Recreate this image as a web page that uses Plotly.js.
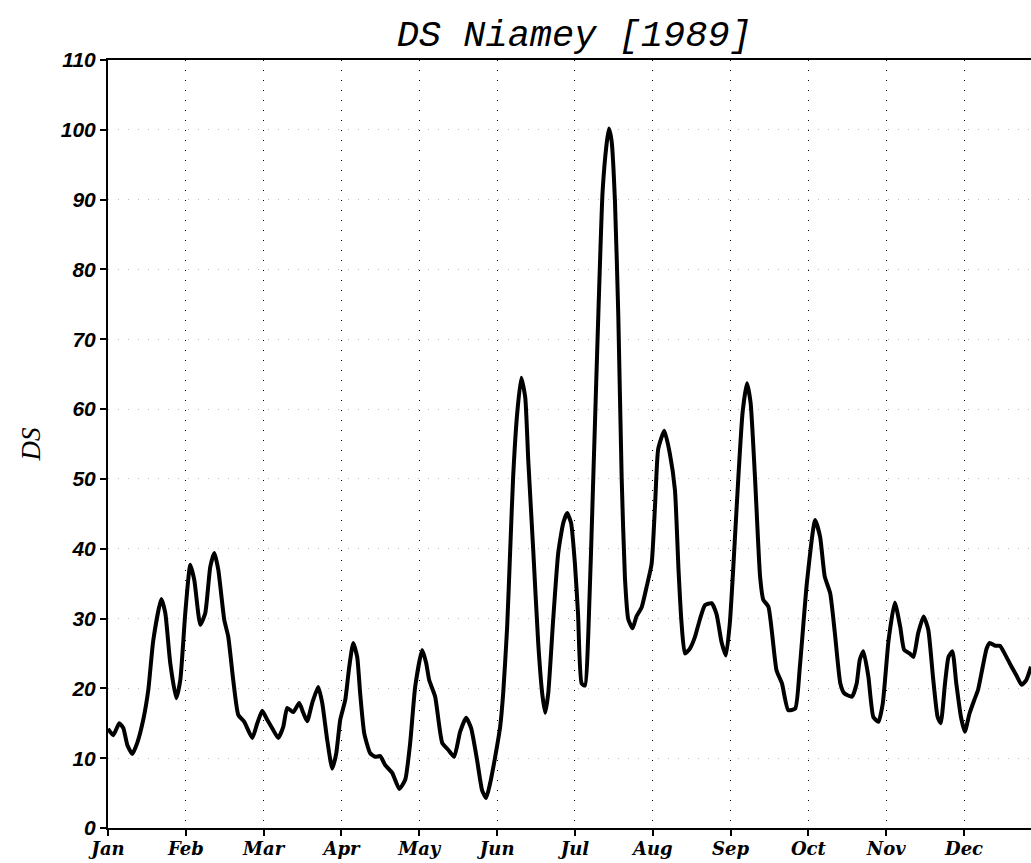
<!DOCTYPE html>
<html>
<head>
<meta charset="utf-8">
<script src="https://cdn.plot.ly/plotly-3.0.1.min.js"></script>
<style>html,body{margin:0;padding:0;background:#fff;}#chart{width:1031px;height:863px;}</style>
</head>
<body>
<div id="chart"></div>
<script>
// x position in months since 1 Jan (0 = Jan, 1 = Feb, ...)
const monthPos = [0.0,0.068,0.145,0.197,0.248,0.312,0.376,0.453,0.518,0.582,0.685,0.736,0.80,0.877,0.929,0.993,1.057,1.109,1.186,1.25,1.314,1.366,1.417,1.494,1.545,1.609,1.674,1.751,1.854,1.918,1.982,2.046,2.11,2.187,2.252,2.303,2.38,2.457,2.509,2.56,2.624,2.701,2.753,2.817,2.881,2.933,2.984,3.048,3.1,3.151,3.202,3.24,3.292,3.369,3.434,3.498,3.562,3.652,3.742,3.819,3.883,3.947,4.037,4.089,4.127,4.204,4.294,4.371,4.448,4.525,4.602,4.666,4.743,4.807,4.859,4.91,4.975,5.039,5.078,5.129,5.168,5.206,5.258,5.31,5.361,5.4,5.464,5.528,5.579,5.618,5.657,5.72,5.785,5.85,5.9,5.95,6.0,6.04,6.086,6.13,6.17,6.236,6.30,6.355,6.407,6.437,6.471,6.514,6.557,6.60,6.642,6.685,6.741,6.79,6.857,6.92,6.985,7.03,7.07,7.148,7.22,7.285,7.33,7.37,7.413,7.477,7.54,7.606,7.67,7.756,7.82,7.884,7.94,7.99,8.034,8.1,8.154,8.21,8.257,8.313,8.379,8.42,8.486,8.59,8.66,8.74,8.83,8.89,8.98,9.085,9.15,9.21,9.28,9.34,9.41,9.46,9.56,9.62,9.66,9.706,9.77,9.834,9.9,9.955,10.03,10.11,10.18,10.23,10.3,10.35,10.41,10.48,10.54,10.6,10.66,10.7,10.755,10.8,10.85,10.9,10.96,11.01,11.07,11.13,11.18,11.24,11.29,11.33,11.4,11.46,11.53,11.61,11.68,11.74,11.8,11.86];
const dsValues = [14.2,13.3,15.0,14.3,11.9,10.6,12.2,15.5,19.8,26.9,32.8,30.8,23.6,18.6,21.2,30.8,37.7,35.5,29.1,30.8,37.4,39.4,37.0,29.8,27.4,21.2,16.2,15.2,12.9,15.0,16.8,15.5,14.3,12.9,14.5,17.2,16.6,17.9,16.5,15.3,17.9,20.2,17.9,12.6,8.5,10.7,15.5,18.3,23.1,26.5,24.5,19.3,13.6,10.7,10.2,10.3,9.0,7.9,5.6,6.9,12.2,20.2,25.5,23.6,21.2,18.8,12.2,11.2,10.2,13.8,15.8,14.3,9.7,5.4,4.3,6.4,10.2,14.5,19.3,28.8,39.8,50.3,59.4,64.5,61.7,52.7,39.8,26.5,19.3,16.5,19.3,29.8,39.4,43.7,45.1,43.7,37.8,30.6,20.7,20.4,27.3,50.3,73.4,91.1,98.0,100.2,98.4,89.8,73.4,50.3,35.9,29.9,28.6,30.3,31.6,34.5,37.8,46.4,54.3,56.9,53.6,48.4,37.2,29.3,25.0,25.7,27.3,29.9,31.9,32.2,30.6,26.6,24.7,29.3,37.2,50.3,59.5,63.7,60.9,50.3,36.0,32.7,31.7,22.6,20.7,16.9,17.1,23.1,35.1,44.1,41.7,36.0,33.6,27.9,20.7,19.3,18.8,20.7,24.1,25.3,21.7,15.9,15.2,17.8,26.9,32.3,28.8,25.5,25.0,24.5,27.9,30.3,28.4,21.7,15.9,15.0,20.7,24.5,25.3,20.7,15.9,13.8,16.4,18.3,19.8,23.1,25.7,26.5,26.1,26.1,24.8,23.1,21.7,20.5,21.2,23.1];
const monthTicks = [0,1,2,3,4,5,6,7,8,9,10,11];
const monthLabels = ['Jan','Feb','Mar','Apr','May','Jun','Jul','Aug','Sep','Oct','Nov','Dec'];
const yTicks = [0,10,20,30,40,50,60,70,80,90,100,110];

const traces = [{
  x: monthPos, y: dsValues, type: 'scatter', mode: 'lines',
  line: {color: '#000', width: 4, shape: 'spline', smoothing: 0.5},
  hoverinfo: 'skip', showlegend: false
}];

const layout = {
  width: 1031, height: 863,
  margin: {l: 108, r: 0, t: 60, b: 35},
  paper_bgcolor: '#fff', plot_bgcolor: '#fff',
  title: {text: 'DS Niamey [1989]', x: 0.557, xanchor: 'center', y: 0.962, yanchor: 'middle',
          font: {family: 'Liberation Mono', size: 37, style: 'italic', color: '#000'}},
  xaxis: {
    range: [0, 11.86], tickmode: 'array', tickvals: monthTicks, ticktext: monthLabels,
    showgrid: true, gridcolor: '#000', gridwidth: 1, griddash: '1px,9px',
    showline: true, linecolor: '#000', linewidth: 2, mirror: true,
    ticks: 'outside', ticklen: 6, tickwidth: 2, tickcolor: '#000',
    ticklabelstandoff: -3,
    zeroline: false,
    tickfont: {family: 'DejaVu Serif', size: 18, weight: 'bold', style: 'italic', color: '#000'}
  },
  yaxis: {
    range: [0, 110], tickmode: 'array', tickvals: yTicks,
    showgrid: true, gridcolor: '#bbb', gridwidth: 1, griddash: '1px,9px',
    showline: true, linecolor: '#000', linewidth: 2,
    ticks: 'outside', ticklen: 6, tickwidth: 2, tickcolor: '#000',
    zeroline: false,
    tickfont: {family: 'Liberation Sans', size: 21, weight: 'bold', style: 'italic', color: '#000'},
    title: {text: 'DS', standoff: 12, font: {family: 'Liberation Serif', size: 27, style: 'italic', color: '#000'}}
  }
};

Plotly.newPlot('chart', traces, layout, {displayModeBar: false, staticPlot: true});
</script>
</body>
</html>
